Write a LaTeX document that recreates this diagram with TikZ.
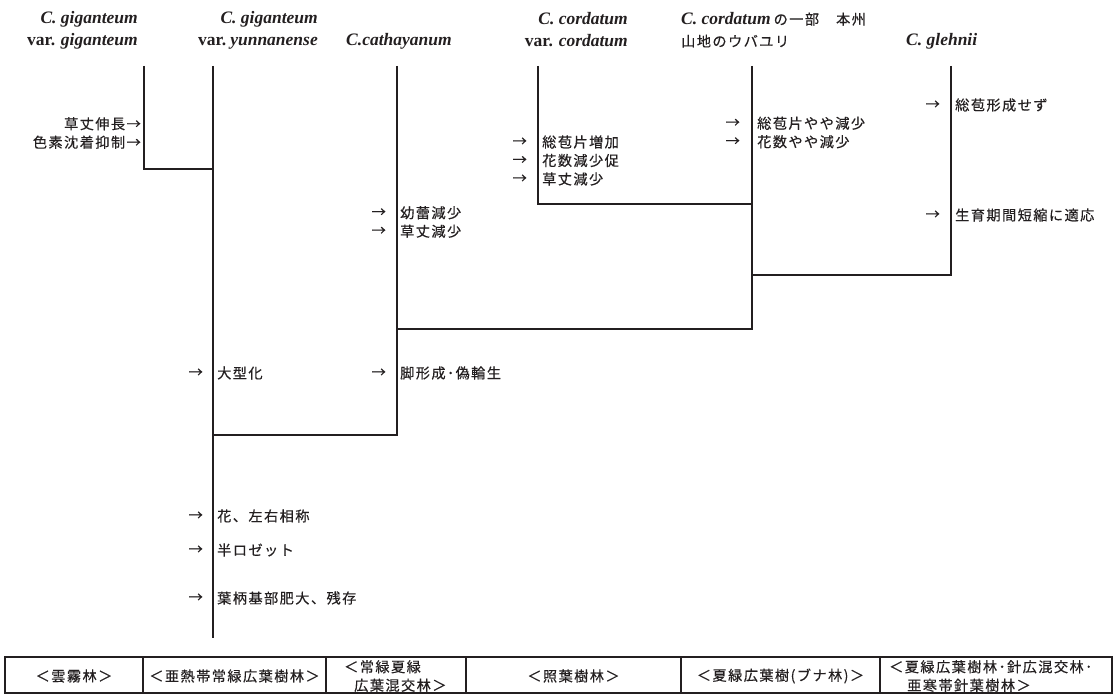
\documentclass[tikz,border=0pt]{standalone}
\usepackage{fontspec}
\newfontfamily\jp[LetterSpace=10,FakeBold=0.35]{Noto Sans CJK JP}
\newfontfamily\hdr{Liberation Serif}
\definecolor{ink}{HTML}{231F20}
\begin{document}
\begin{tikzpicture}[x=1pt,y=-1pt,
  br/.style={line width=2.2pt, draw=ink},
  tbl/.style={line width=1.4pt, draw=ink},
  lab/.style={inner sep=0pt, text=ink, font={\jp\fontsize{14.2}{18.5}\selectfont}, align=left},
  arr/.style={lab, anchor=east},
  txt/.style={lab, anchor=west},
  hd/.style={inner sep=0pt, text=ink, font={\hdr\bfseries\fontsize{17.5}{22}\selectfont}},
  cell/.style={lab, align=center}
]
\useasboundingbox (0,0) rectangle (1115,695);

% ---- headers
\node[hd, align=right, anchor=east] (h1) at (138,30) {\itshape C. giganteum\\var. \itshape giganteum};
\node[hd, align=right, anchor=east] (h2) at (318,30) {\itshape C. giganteum\\var.\hspace{4pt}\itshape yunnanense};
\node[hd, anchor=west] (h3) at (346,41) {\itshape C.cathayanum};
\node[hd, align=right, anchor=east] (h4) at (628,30) {\itshape C. cordatum\\var. \itshape cordatum};
\node[hd, align=left, anchor=west] (h5) at (681,30) {{\itshape C. cordatum}\hspace{3pt}{\jp\mdseries\fontsize{14.2}{22}\selectfont の一部　本州}\\{\jp\mdseries\fontsize{14.2}{22}\selectfont 山地のウバユリ}};
\node[hd, anchor=west] (h6) at (906,41) {\itshape C. glehnii};

% ---- tree coordinates
\coordinate (t1) at (144,66);  \coordinate (e1) at (213,169);
\coordinate (t2) at (213,66);  \coordinate (e2) at (213,638);
\coordinate (t3) at (397,66);  \coordinate (e3) at (213,435);
\coordinate (t4) at (538,66);  \coordinate (e4) at (752,204);
\coordinate (t5) at (752,66);  \coordinate (e5) at (397,329);
\coordinate (t6) at (951,66);  \coordinate (e6) at (752,275);

\draw[br] (t1) |- (e1);
\draw[br] (t2) -- (e2);
\draw[br] (t3) |- (e3);
\draw[br] (t4) |- (e4);
\draw[br] (t5) |- (e5);
\draw[br] (t6) |- (e6);

% ---- labels
\node[lab, align=right, anchor=east] (l1) at (141,133) {草丈伸長→\\色素沈着抑制→};

\node[arr] (a3) at (386,222) {→\\→};
\node[txt] (x3) at (400,222) {幼蕾減少\\草丈減少};

\node[arr] (a4) at (527,160.5) {→\\→\\→};
\node[txt] (x4) at (542,160.5) {総苞片増加\\花数減少促\\草丈減少};

\node[arr] (a5) at (740,132.5) {→\\→};
\node[txt] (x5) at (757,132.5) {総苞片やや減少\\花数やや減少};

\node[arr] (a6) at (940,105) {→};
\node[txt] (x6) at (955,105) {総苞形成せず};
\node[arr] (a7) at (940,215) {→};
\node[txt] (x7) at (955,215) {生育期間短縮に適応};

\node[arr] (a8) at (203,373) {→};
\node[txt] (x8) at (217,373) {大型化};
\node[arr] (a9) at (386,373) {→};
\node[txt] (x9) at (400,373) {脚形成･偽輪生};

\node[arr] (a10) at (203,516) {→};
\node[txt] (x10) at (217,516) {花、左右相称};
\node[arr] (a11) at (203,550) {→};
\node[txt] (x11) at (217,550) {半ロゼット};
\node[arr] (a12) at (203,598) {→};
\node[txt] (x12) at (217,598) {葉柄基部肥大、残存};

% ---- table
\coordinate (tl) at (5,657); \coordinate (br) at (1112,693);
\draw[tbl] (tl) rectangle (br);
\foreach \xx in {143,326,466,681,880}
  \draw[tbl] (\xx,657) -- (\xx,693);

\node[cell] (c1) at (74,676) {＜雲霧林＞};
\node[cell] (c2) at (234.5,676) {＜亜熱帯常緑広葉樹林＞};
\node[lab, anchor=west] (c3) at (344,676) {＜常緑夏緑\\\hspace*{10pt}広葉混交林＞};
\node[cell] (c4) at (573.5,676) {＜照葉樹林＞};
\node[cell] (c5) at (780.5,676) {＜夏緑広葉樹(ブナ林)＞};
\node[lab, anchor=west] (c6) at (889,676) {＜夏緑広葉樹林･針広混交林･\\\hspace*{18pt}亜寒帯針葉樹林＞};
\end{tikzpicture}
\end{document}
